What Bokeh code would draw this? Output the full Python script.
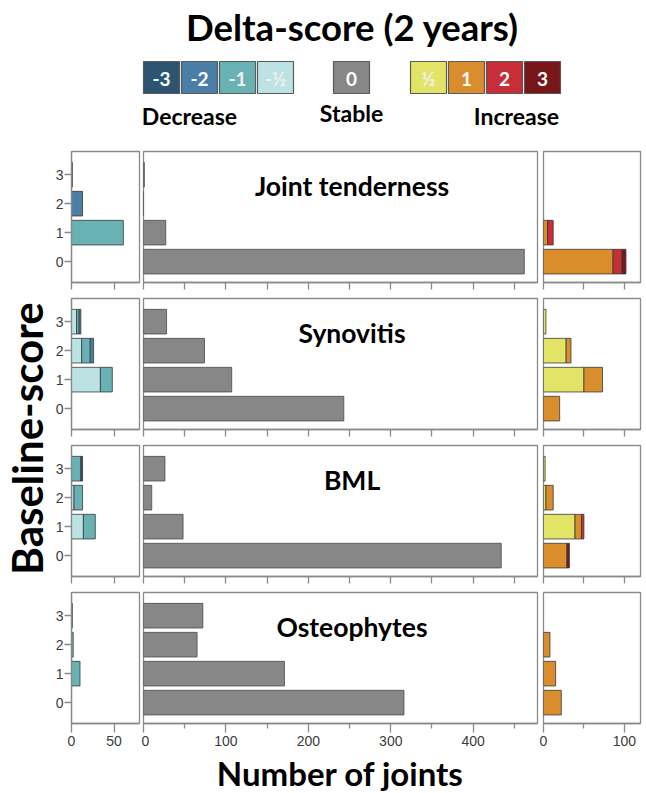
import math
from bokeh.plotting import figure
from bokeh.models import Range1d, FixedTicker, ColumnDataSource
from bokeh.layouts import column, row
from bokeh.embed import file_html
from bokeh.resources import INLINE
from bokeh.core.properties import value

# ---------------- data ----------------
baseline = [0, 1, 2, 3]
measures = ["Joint tenderness", "Synovitis", "BML", "Osteophytes"]
legend_labels = ["-3", "-2", "-1", "-½", "0", "½", "1", "2", "3"]
group_labels = ["Decrease", "Stable", "Increase"]

# counts per baseline score 0..3, per delta-score
jt_m_half = [0, 0, 0, 0]
jt_m1 = [0, 61, 0, 0]
jt_m2 = [0, 0, 13, 0]
jt_m3 = [0, 0, 0, 1]
jt_stable = [462, 27, 0, 1]
jt_p_half = [0, 0, 0, 0]
jt_p1 = [86, 5, 0, 0]
jt_p2 = [11, 7, 0, 0]
jt_p3 = [5, 0, 0, 0]

syn_m_half = [0, 34, 12, 6]
syn_m1 = [0, 14, 10, 3]
syn_m2 = [0, 0, 4, 2]
syn_m3 = [0, 0, 0, 0]
syn_stable = [243, 107, 74, 28]
syn_p_half = [0, 50, 28, 3]
syn_p1 = [20, 23, 6, 0]
syn_p2 = [0, 0, 0, 0]
syn_p3 = [0, 0, 0, 0]

bml_m_half = [0, 14, 3, 0]
bml_m1 = [0, 14, 10, 11]
bml_m2 = [0, 0, 0, 0]
bml_m3 = [0, 0, 0, 2]
bml_stable = [434, 48, 10, 26]
bml_p_half = [0, 39, 3, 2]
bml_p1 = [29, 8, 9, 0]
bml_p2 = [0, 3, 0, 0]
bml_p3 = [3, 0, 0, 0]

ost_m_half = [0, 0, 0, 0]
ost_m1 = [0, 10, 2, 1]
ost_m2 = [0, 0, 0, 0]
ost_m3 = [0, 0, 0, 0]
ost_stable = [316, 171, 65, 72]
ost_p_half = [0, 0, 0, 0]
ost_p1 = [22, 15, 8, 0]
ost_p2 = [0, 0, 0, 0]
ost_p3 = [0, 0, 0, 0]

colors = {"-3": "#2d5572", "-2": "#4a7ea6", "-1": "#68b2b3", "-½": "#bde2e3",
          "0": "#878787", "½": "#e1e466", "1": "#d98d2c", "2": "#c62f37", "3": "#771719"}

data = {
    "Joint tenderness": dict(dec=[("-½", jt_m_half), ("-1", jt_m1), ("-2", jt_m2), ("-3", jt_m3)],
                             stable=jt_stable,
                             inc=[("½", jt_p_half), ("1", jt_p1), ("2", jt_p2), ("3", jt_p3)]),
    "Synovitis": dict(dec=[("-½", syn_m_half), ("-1", syn_m1), ("-2", syn_m2), ("-3", syn_m3)],
                      stable=syn_stable,
                      inc=[("½", syn_p_half), ("1", syn_p1), ("2", syn_p2), ("3", syn_p3)]),
    "BML": dict(dec=[("-½", bml_m_half), ("-1", bml_m1), ("-2", bml_m2), ("-3", bml_m3)],
                stable=bml_stable,
                inc=[("½", bml_p_half), ("1", bml_p1), ("2", bml_p2), ("3", bml_p3)]),
    "Osteophytes": dict(dec=[("-½", ost_m_half), ("-1", ost_m1), ("-2", ost_m2), ("-3", ost_m3)],
                        stable=ost_stable,
                        inc=[("½", ost_p_half), ("1", ost_p1), ("2", ost_p2), ("3", ost_p3)]),
}

# ---------------- styling ----------------
FONT = "Lato"
TICK_FONT = "Liberation Sans"
FRAME = "#8a8a8a"
BAR_H = 0.85
Y_RANGE = (-0.72, 3.8)


def stacked_source(series):
    ys, lefts, rights, cols = [], [], [], []
    for i, b in enumerate(baseline):
        acc = 0
        for key, vals in series:
            v = vals[i]
            if v > 0:
                ys.append(b)
                lefts.append(acc)
                rights.append(acc + v)
                cols.append(colors[key])
                acc += v
    return ColumnDataSource(dict(y=ys, left=lefts, right=rights, color=cols))


def style_frame(p):
    p.xgrid.visible = False
    p.ygrid.visible = False
    p.outline_line_color = FRAME
    p.outline_line_width = 1.3
    p.background_fill_color = "white"
    p.border_fill_color = "white"


def style_xaxis(p, major, minor, bottom):
    ax = p.xaxis[0]
    ax.axis_line_color = FRAME
    ax.axis_line_width = 1.3
    ax.major_tick_line_color = FRAME
    ax.minor_tick_line_color = FRAME
    ax.major_tick_line_width = 1.3
    ax.minor_tick_line_width = 1.3
    ax.major_tick_in = 0
    ax.minor_tick_in = 0
    ax.major_label_text_font = TICK_FONT
    ax.major_label_text_color = "#3c3c3c"
    ax.major_label_text_font_size = "14px"
    if bottom:
        ax.ticker = FixedTicker(ticks=major, minor_ticks=minor)
        ax.major_tick_out = 9
        ax.minor_tick_out = 5
        ax.major_label_standoff = 3
    else:
        # unlabeled rows: tick marks only
        ax.ticker = FixedTicker(ticks=[], minor_ticks=sorted(major + minor))
        ax.major_tick_out = 0
        ax.minor_tick_out = 7
        ax.major_label_standoff = 0


def make_row(name, bottom):
    d = data[name]
    h = 165 if bottom else 147
    bb = 30 if bottom else 12
    common = dict(height=h, output_backend="svg", toolbar_location=None,
                  min_border_top=4, min_border_bottom=bb,
                  y_range=Range1d(*Y_RANGE))

    # decrease panel
    pl = figure(width=89, x_range=Range1d(0, 80), min_border_left=17, min_border_right=2,
                **common)
    pl.hbar(y="y", left="left", right="right", height=BAR_H, fill_color="color",
            line_color="#3a3a3a", line_width=0.8, source=stacked_source(d["dec"]))
    style_frame(pl)
    style_xaxis(pl, [0, 50], [], bottom)
    ya = pl.yaxis[0]
    ya.ticker = FixedTicker(ticks=baseline, minor_ticks=[])
    ya.axis_line_color = FRAME
    ya.axis_line_width = 1.3
    ya.major_tick_line_color = FRAME
    ya.major_tick_line_width = 1.3
    ya.major_tick_in = 0
    ya.major_tick_out = 7
    ya.major_label_standoff = 1
    ya.major_label_text_font = TICK_FONT
    ya.major_label_text_font_size = "14px"
    ya.major_label_text_color = "#3c3c3c"

    # stable panel
    pm = figure(width=398, x_range=Range1d(0, 478), min_border_left=2, min_border_right=2,
                y_axis_location=None, **common)
    pm.hbar(y=baseline, left=0, right=d["stable"], height=BAR_H, fill_color=colors["0"],
            line_color="#4a4a4a", line_width=0.8)
    pm.text(x=[253], y=[2.6], text=[name], text_align="center", text_baseline="middle",
            text_font=value(FONT), text_font_style="bold", text_font_size="26.5px",
            text_color="black")
    style_frame(pm)
    style_xaxis(pm, [0, 100, 200, 300, 400], [50, 150, 250, 350, 450], bottom)

    # increase panel
    pr = figure(width=103, x_range=Range1d(0, 120), min_border_left=4, min_border_right=2,
                y_axis_location=None, **common)
    pr.hbar(y="y", left="left", right="right", height=BAR_H, fill_color="color",
            line_color="#3a3a3a", line_width=0.8, source=stacked_source(d["inc"]))
    style_frame(pr)
    style_xaxis(pr, [0, 100], [50], bottom)

    return row(pl, pm, pr, spacing=0)


def blank(width, height, xr, yr):
    p = figure(width=width, height=height, x_range=Range1d(*xr), y_range=Range1d(*yr),
               output_backend="svg", toolbar_location=None,
               x_axis_location=None, y_axis_location=None,
               min_border=0, min_border_left=0, min_border_right=0,
               min_border_top=0, min_border_bottom=0)
    p.xgrid.visible = False
    p.ygrid.visible = False
    p.outline_line_color = None
    p.background_fill_color = "white"
    p.border_fill_color = "white"
    return p


# ---------------- header (title + legend), page coordinates ----------------
hdr = blank(642, 147, (0, 642), (147, 0))
hdr.text(x=[352], y=[26], text=["Delta-score (2 years)"], text_align="center",
         text_baseline="middle", text_font=value(FONT), text_font_style="bold",
         text_font_size="36.5px", text_color="black")

box_left = [143 + 38 * i for i in range(4)] + [333] + [410 + 38 * i for i in range(4)]
box_w = 36
hdr.quad(left=box_left, right=[x + box_w for x in box_left], top=[61] * 9, bottom=[93] * 9,
         fill_color=[colors[k] for k in legend_labels], line_color="#5a5a5a", line_width=1.2)
hdr.text(x=[x + box_w / 2 for x in box_left], y=[78] * 9, text=legend_labels,
         text_align="center", text_baseline="middle", text_font=value(FONT),
         text_font_style="bold", text_font_size="19px",
         text_color=["white", "white", "#f2f2f2", "#eeeeee", "white", "#f0f0f0", "white", "white", "white"])
hdr.text(x=[189, 351, 516], y=[115, 112, 115], text=group_labels, text_align="center",
         text_baseline="middle", text_font=value(FONT), text_font_style="bold",
         text_font_size="23px", text_color="black")

# ---------------- y label ----------------
ylab = blank(52, 606, (0, 52), (753, 147))
ylab.text(x=[26], y=[438], text=["Baseline-score"], angle=math.pi / 2, text_align="center",
          text_baseline="middle", text_font=value(FONT), text_font_style="bold",
          text_font_size="42px", text_color="black")

# ---------------- x label ----------------
xlab = blank(642, 40, (0, 642), (793, 753))
xlab.text(x=[340], y=[772], text=["Number of joints"], text_align="center",
          text_baseline="middle", text_font=value(FONT), text_font_style="bold",
          text_font_size="33px", text_color="black")

rows = [make_row(m, i == len(measures) - 1) for i, m in enumerate(measures)]
body = row(ylab, column(*rows, spacing=0), spacing=0)
layout = column(hdr, body, xlab, spacing=0)

open("out.html", "w").write(file_html(layout, INLINE))
